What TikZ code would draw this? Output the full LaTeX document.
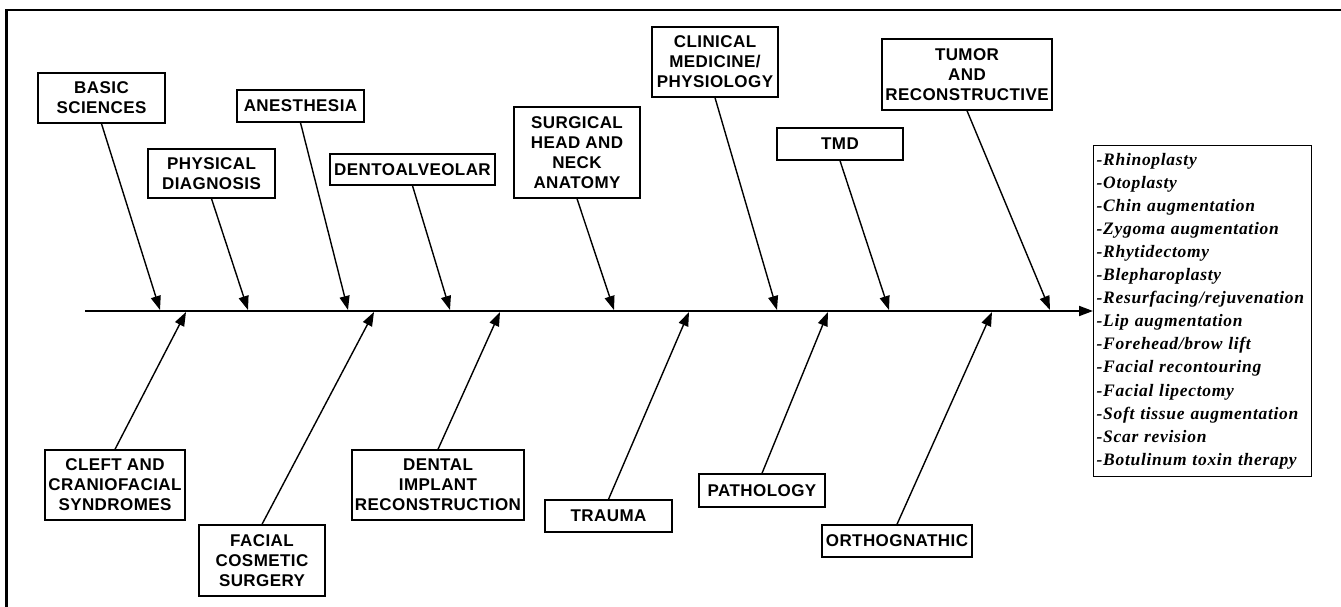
\documentclass[tikz,border=0pt]{standalone}
\usepackage{fontspec}
\setmainfont{Liberation Sans}[LetterSpace=2.5]
\newfontfamily\listfont{Liberation Serif}[LetterSpace=4]
\usetikzlibrary{arrows.meta}
\begin{document}
\begin{tikzpicture}[x=1pt,y=-1pt,
  cat/.style={draw, line width=1.4pt, align=center, inner sep=0pt,
    font=\fontsize{17}{20}\selectfont\bfseries},
  arr/.style={-{Triangle[length=14pt,width=10pt]}, line width=1.4pt},
  spine/.style={-{Triangle[length=14pt,width=10pt]}, line width=1.8pt}]
\useasboundingbox (0,0) rectangle (1341,607);
% frame (left and top edges)
\draw[line width=2.2pt] (6.5,607) -- (6.5,10) -- (1341,10);

% procedures box at the head of the spine
\node[draw, line width=1.4pt, anchor=west, minimum height=331pt,
  align=left, inner xsep=3pt, text width=212pt,
  font=\listfont\bfseries\itshape\fontsize{17.5}{23.1}\selectfont] (list) at (1093,311)
  {-Rhinoplasty\\-Otoplasty\\-Chin augmentation\\-Zygoma augmentation\\-Rhytidectomy\\-Blepharoplasty\\-Resurfacing/rejuvenation\\-Lip augmentation\\-Forehead/brow lift\\-Facial recontouring\\-Facial lipectomy\\-Soft tissue augmentation\\-Scar revision\\-Botulinum toxin therapy};

% spine
\coordinate (tail) at (85,311);
\draw[spine] (tail) -- (list.west);

% upper categories
\node[cat, minimum width=127pt, minimum height=50pt] (basic) at (101.5,98) {BASIC\\SCIENCES};
\node[cat, minimum width=127pt, minimum height=49pt] (phys) at (211.5,173.5) {PHYSICAL\\DIAGNOSIS};
\node[cat, minimum width=127pt, minimum height=32pt] (anes) at (300.5,106) {ANESTHESIA};
\node[cat, minimum width=165pt, minimum height=31pt] (dento) at (412.5,169.5) {DENTOALVEOLAR};
\node[cat, minimum width=126pt, minimum height=91pt] (surg) at (577,152.5) {SURGICAL\\HEAD AND\\NECK\\ANATOMY};
\node[cat, minimum width=126pt, minimum height=70pt] (clin) at (715,62) {CLINICAL\\MEDICINE/\\PHYSIOLOGY};
\node[cat, minimum width=126pt, minimum height=32pt] (tmd) at (840,144) {TMD};
\node[cat, minimum width=170pt, minimum height=71pt] (tumor) at (967,74.5) {TUMOR\\AND\\RECONSTRUCTIVE};

% lower categories
\node[cat, minimum width=140pt, minimum height=70pt] (cleft) at (115,485) {CLEFT AND\\CRANIOFACIAL\\SYNDROMES};
\node[cat, minimum width=126pt, minimum height=71pt] (cosm) at (262,560.5) {FACIAL\\COSMETIC\\SURGERY};
\node[cat, minimum width=172pt, minimum height=70pt] (implant) at (438,485) {DENTAL\\IMPLANT\\RECONSTRUCTION};
\node[cat, minimum width=127pt, minimum height=32pt] (trauma) at (608.5,516) {TRAUMA};
\node[cat, minimum width=126pt, minimum height=33pt] (path) at (762,490.5) {PATHOLOGY};
\node[cat, minimum width=150pt, minimum height=32pt] (ortho) at (897,541) {ORTHOGNATHIC};

% points where the bones meet the spine
\coordinate (u1) at (160,310);
\coordinate (u2) at (248,310);
\coordinate (u3) at (348,310);
\coordinate (u4) at (450,310);
\coordinate (u5) at (614,310);
\coordinate (u6) at (777,310);
\coordinate (u7) at (889,310);
\coordinate (u8) at (1050,310);
\coordinate (l1) at (186,312);
\coordinate (l2) at (374,312);
\coordinate (l3) at (500,312);
\coordinate (l4) at (689,312);
\coordinate (l5) at (828,312);
\coordinate (l6) at (992,312);

% bones
\draw[arr] (basic.south) -- (u1);
\draw[arr] (phys.south) -- (u2);
\draw[arr] (anes.south) -- (u3);
\draw[arr] (dento.south) -- (u4);
\draw[arr] (surg.south) -- (u5);
\draw[arr] (clin.south) -- (u6);
\draw[arr] (tmd.south) -- (u7);
\draw[arr] (tumor.south) -- (u8);
\draw[arr] (cleft.north) -- (l1);
\draw[arr] (cosm.north) -- (l2);
\draw[arr] (implant.north) -- (l3);
\draw[arr] (trauma.north) -- (l4);
\draw[arr] (path.north) -- (l5);
\draw[arr] (ortho.north) -- (l6);
\end{tikzpicture}
\end{document}
